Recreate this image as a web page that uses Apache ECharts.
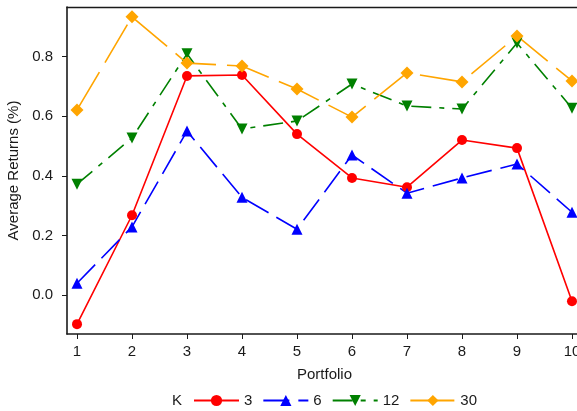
<!DOCTYPE html>
<html>
<head>
<meta charset="utf-8">
<script src="https://cdn.jsdelivr.net/npm/echarts@6/dist/echarts.min.js"></script>
<style>
html,body{margin:0;padding:0;background:#fff;}
#chart{width:577px;height:411px;}
</style>
</head>
<body>
<div id="chart"></div>
<script>
var portfolios = [1,2,3,4,5,6,7,8,9,10];
var k3  = [-0.097, 0.268, 0.735, 0.738, 0.540, 0.393, 0.362, 0.520, 0.493, -0.020];
var k6  = [0.040, 0.229, 0.550, 0.328, 0.221, 0.470, 0.342, 0.393, 0.440, 0.278];
var k12 = [0.372, 0.527, 0.809, 0.557, 0.584, 0.708, 0.634, 0.624, 0.845, 0.627];
var k30 = [0.621, 0.933, 0.778, 0.768, 0.691, 0.597, 0.745, 0.715, 0.869, 0.718];
var seriesNames = ['3','6','12','30'];
var yTicks = [0, 0.2, 0.4, 0.6, 0.8];

function pairs(vals){ return portfolios.map(function(p,i){ return [p, vals[i]]; }); }

var FONT = 'Liberation Sans, Arial, Helvetica, sans-serif';
var INK = '#1a1a1a';
var chart = echarts.init(document.getElementById('chart'), null, {renderer:'canvas'});

function mkSeries(name, vals, color, symbol, size, dash, rotate){
  return {
    name: name, type: 'line', data: pairs(vals), xAxisIndex: 0, yAxisIndex: 0,
    symbol: symbol, symbolSize: size, symbolRotate: rotate || 0,
    showSymbol: true, animation: false, clip: false,
    lineStyle: {color: color, width: 1.6, type: dash},
    itemStyle: {color: color}
  };
}

chart.setOption({
  animation: false,
  backgroundColor: '#fff',
  textStyle: {fontFamily: FONT},
  grid: {left: 67, top: 7, width: 515, height: 327, show: false, containLabel: false, outerBoundsMode: 'none'},
  xAxis: [{
    type: 'value', min: 0.818, max: 10.182, position: 'bottom',
    name: 'Portfolio', nameLocation: 'middle', nameGap: 33,
    nameTextStyle: {fontSize: 15, color: INK, fontFamily: FONT},
    splitLine: {show: false},
    axisLine: {show: true, onZero: false, lineStyle: {color: INK, width: 1.6}},
    axisTick: {show: true, length: 5, customValues: portfolios, lineStyle: {color: INK, width: 1}},
    axisLabel: {customValues: portfolios, margin: 10, fontSize: 15, color: INK, fontFamily: FONT}
  }, {
    type: 'value', min: 0.818, max: 10.182, position: 'top',
    splitLine: {show: false},
    axisLine: {show: true, onZero: false, lineStyle: {color: INK, width: 1.4}},
    axisTick: {show: false}, axisLabel: {show: false}
  }],
  yAxis: {
    type: 'value', min: -0.130, max: 0.966,
    name: 'Average Returns (%)', nameLocation: 'middle', nameGap: 41,
    nameTextStyle: {fontSize: 15, color: INK, fontFamily: FONT},
    splitLine: {show: false},
    axisLine: {show: true, onZero: false, lineStyle: {color: INK, width: 1.6}},
    axisTick: {show: true, length: 5, customValues: yTicks, lineStyle: {color: INK, width: 1}},
    axisLabel: {customValues: yTicks, margin: 14, fontSize: 15, color: INK, fontFamily: FONT,
      formatter: function(v){ return v.toFixed(1); }}
  },
  legend: {
    left: 193, top: 393, orient: 'horizontal', padding: 0,
    itemWidth: 45, itemHeight: 14, itemGap: 10,
    textStyle: {fontSize: 15, color: INK, fontFamily: FONT},
    data: seriesNames
  },
  graphic: [{type: 'text', left: 172, top: 393, style: {text: 'K', fontSize: 15, fill: INK, fontFamily: FONT}}],
  series: [
    mkSeries('3', k3, '#ff0000', 'circle', 10, 'solid'),
    mkSeries('6', k6, '#0000ff', 'triangle', 11, [26, 9]),
    mkSeries('12', k12, '#008000', 'triangle', 11, [20, 8, 5, 8], 180),
    mkSeries('30', k30, '#ffa500', 'diamond', 13, [44, 11])
  ]
});
</script>
</body>
</html>
